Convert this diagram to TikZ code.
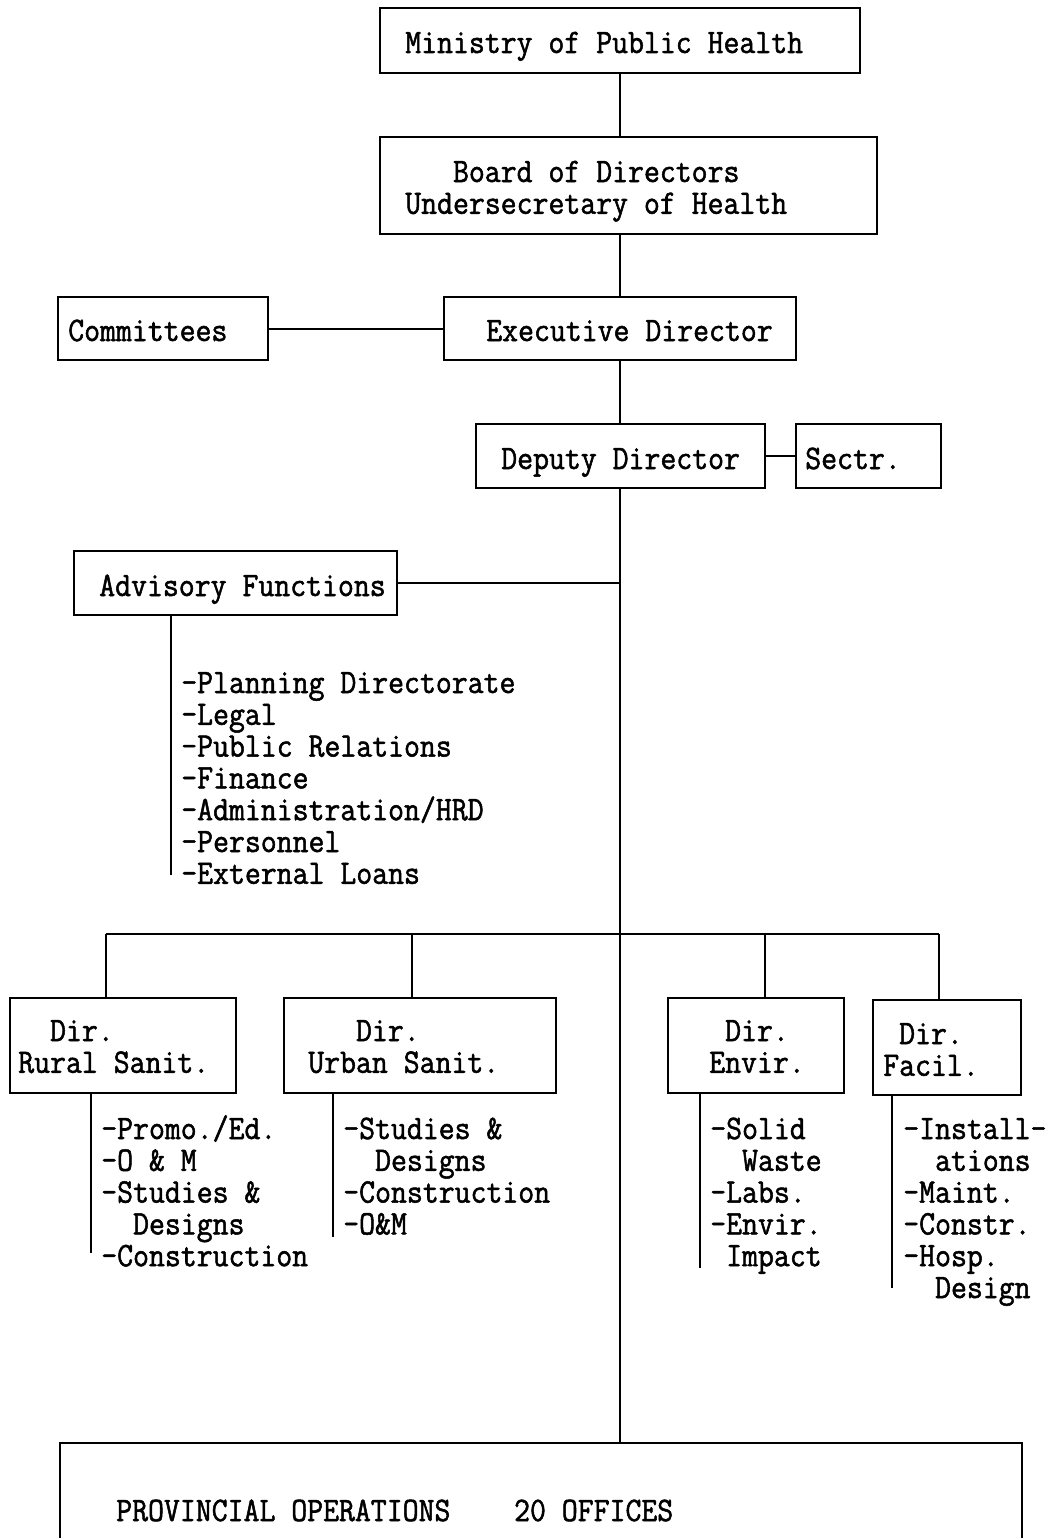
\documentclass[tikz,border=0pt]{standalone}
\usepackage{fontspec}
\usetikzlibrary{fit}
\newfontfamily\tw[FakeStretch=0.9,FakeBold=1.5]{Latin Modern Mono}
\begin{document}
\begin{tikzpicture}[x=0.75pt,y=-0.75pt,
  box/.style={draw,line width=1.9pt,inner sep=0pt},
  conn/.style={line width=1.5pt},
  txt/.style={anchor=base west,inner sep=0pt,align=left,
    font=\tw\fontsize{25.75}{23.85}\selectfont}]
\useasboundingbox (0,0) rectangle (1046,1538);
% boxes
\node[box,fit={(380,8)(860,73)}] (min) {};
\node[box,fit={(380,137)(877,234)}] (board) {};
\node[box,fit={(58,297)(268,360)}] (comm) {};
\node[box,fit={(444,297)(796,360)}] (exec) {};
\node[box,fit={(476,424)(765,488)}] (dep) {};
\node[box,fit={(796,424)(941,488)}] (sectr) {};
\node[box,fit={(74,551)(397,615)}] (adv) {};
\node[box,fit={(10,998)(236,1093)}] (rural) {};
\node[box,fit={(284,998)(556,1093)}] (urban) {};
\node[box,fit={(668,998)(844,1093)}] (envir) {};
\node[box,fit={(873,1000)(1021,1095)}] (facil) {};
\draw[line width=1.9pt] (60,1538) -- (60,1443) -- (1022,1443) -- (1022,1538);
\coordinate (provtop) at (620,1443);
% texts (y = baseline of the last line)
\node[txt] (tmin) at (405,53) {Ministry of Public Health};
\node[txt] (tboard) at (405,213.8) {\hphantom{XXX}Board of Directors\\Undersecretary of Health};
\node[txt] (tcomm) at (68,341) {Committees};
\node[txt] (texec) at (486,341) {Executive Director};
\node[txt] (tdep) at (501,469) {Deputy Director};
\node[txt] (tsectr) at (805,469) {Sectr.};
\node[txt] (tadv) at (99,596) {Advisory Functions};
\node[txt] (ladv) at (181,883.8) {-Planning Directorate\\-Legal\\-Public Relations\\-Finance\\-Administration/HRD\\-Personnel\\-External Loans};
\node[txt] (trural) at (18,1072.8) {\hphantom{XX}Dir.\\Rural Sanit.};
\node[txt] (turban) at (308,1072.8) {\hphantom{XXX}Dir.\\Urban Sanit.};
\node[txt] (tenvir) at (709,1072.8) {\hphantom{X}Dir.\\Envir.};
\node[txt] (tfacil) at (883,1075.8) {\hphantom{X}Dir.\\Facil.};
\node[txt] (lrural) at (101,1266.2) {-Promo./Ed.\\-O \& M\\-Studies \&\\\hphantom{XX}Designs\\-Construction};
\node[txt] (lurban) at (343,1234.4) {-Studies \&\\\hphantom{XX}Designs\\-Construction\\-O\&M};
\node[txt] (lenvir) at (710,1266.2) {-Solid\\\hphantom{XX}Waste\\-Labs.\\-Envir.\\\hphantom{X}Impact};
\node[txt] (lfacil) at (903,1298) {-Install-\\\hphantom{XX}ations\\-Maint.\\-Constr.\\-Hosp.\\\hphantom{XX}Design};
\node[txt] (tprov) at (116,1521) {PROVINCIAL OPERATIONS\hphantom{XXXX}20 OFFICES};
% connectors
\draw[conn] (min.south) -- (min.south |- board.north);
\draw[conn] (min.south |- board.south) -- (exec.north);
\draw[conn] (comm.east) -- (exec.west);
\draw[conn] (exec.south) -- (exec.south |- dep.north);
\draw[conn] (dep.east) -- (sectr.west);
\draw[conn] (exec.south |- dep.south) -- (provtop);
\draw[conn] (adv.east) -- (adv.east -| provtop);
\coordinate (advl) at (171,875);
\draw[conn] (advl |- adv.south) -- (advl);
% bus
\coordinate (b1) at (106,934);
\coordinate (b2) at (412,934);
\coordinate (b3) at (765,934);
\coordinate (b4) at (939,934);
\draw[conn] (b1) -- (b4);
\draw[conn] (b1) -- (b1 |- rural.north);
\draw[conn] (b2) -- (b2 |- urban.north);
\draw[conn] (b3) -- (b3 |- envir.north);
\draw[conn] (b4) -- (b4 |- facil.north);
% list lines
\coordinate (rl) at (91,1253);
\coordinate (ul) at (333,1237);
\coordinate (el) at (700,1268);
\coordinate (fl) at (892,1288);
\draw[conn] (rl |- rural.south) -- (rl);
\draw[conn] (ul |- urban.south) -- (ul);
\draw[conn] (el |- envir.south) -- (el);
\draw[conn] (fl |- facil.south) -- (fl);
\end{tikzpicture}
\end{document}
